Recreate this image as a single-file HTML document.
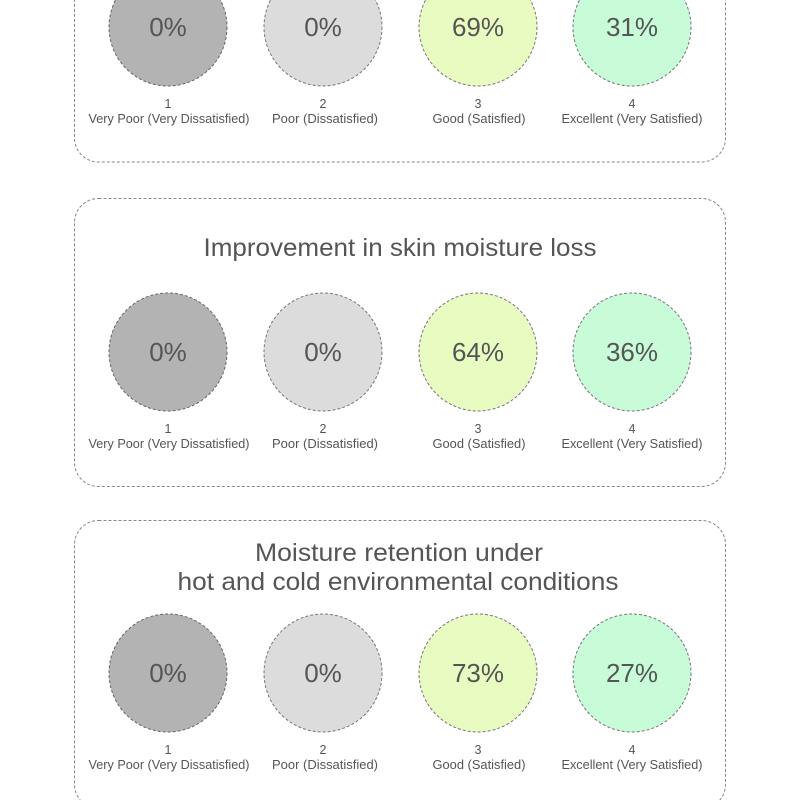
<!DOCTYPE html>
<html><head><meta charset="utf-8"><style>html,body{margin:0;padding:0;background:#fff}svg{display:block}</style></head>
<body>
<svg width="800" height="800" viewBox="0 0 800 800" xmlns="http://www.w3.org/2000/svg" font-family="Liberation Sans, sans-serif">
<g fill="none" stroke="#888" stroke-width="1" stroke-dasharray="3,2">
<rect x="74.5" y="-126" width="651" height="288" rx="24"/>
<rect x="74.5" y="198.5" width="651" height="288" rx="24"/>
<rect x="74.5" y="520.5" width="651" height="288" rx="24"/>
</g>
<text x="400" y="256" font-size="25" fill="#555" text-anchor="middle" textLength="393" lengthAdjust="spacingAndGlyphs">Improvement in skin moisture loss</text>
<text x="399" y="561" font-size="25" fill="#555" text-anchor="middle" textLength="288" lengthAdjust="spacingAndGlyphs">Moisture retention under</text>
<text x="398" y="590" font-size="25" fill="#555" text-anchor="middle" textLength="441" lengthAdjust="spacingAndGlyphs">hot and cold environmental conditions</text>
<defs>
<g id="c1"><circle r="59" fill="#b3b3b3" stroke="#666" stroke-dasharray="3,2"/></g>
<g id="c2"><circle r="59" fill="#dcdcdc" stroke="#777" stroke-dasharray="3,2"/></g>
<g id="c3"><circle r="59" fill="#e8fbc0" stroke="#777" stroke-dasharray="3,2"/></g>
<g id="c4"><circle r="59" fill="#c8fbd8" stroke="#777" stroke-dasharray="3,2"/></g>
</defs>
<g fill="#555" text-anchor="middle">
<!-- row 1 cy=27 -->
<use href="#c1" x="168" y="27"/><use href="#c2" x="323" y="27"/><use href="#c3" x="478" y="27"/><use href="#c4" x="632" y="27"/>
<text x="168" y="36" font-size="26">0%</text><text x="323" y="36" font-size="26">0%</text><text x="478" y="36" font-size="26">69%</text><text x="632" y="36" font-size="26">31%</text>
<g font-size="12.5">
<text x="168" y="108">1</text><text x="323" y="108">2</text><text x="478" y="108">3</text><text x="632" y="108">4</text>
<text x="169" y="123" textLength="161" lengthAdjust="spacingAndGlyphs">Very Poor (Very Dissatisfied)</text>
<text x="325" y="123" textLength="106" lengthAdjust="spacingAndGlyphs">Poor (Dissatisfied)</text>
<text x="479" y="123" textLength="93" lengthAdjust="spacingAndGlyphs">Good (Satisfied)</text>
<text x="632" y="123" textLength="141" lengthAdjust="spacingAndGlyphs">Excellent (Very Satisfied)</text>
</g>
<!-- row 2 cy=352 -->
<use href="#c1" x="168" y="352"/><use href="#c2" x="323" y="352"/><use href="#c3" x="478" y="352"/><use href="#c4" x="632" y="352"/>
<text x="168" y="361" font-size="26">0%</text><text x="323" y="361" font-size="26">0%</text><text x="478" y="361" font-size="26">64%</text><text x="632" y="361" font-size="26">36%</text>
<g font-size="12.5">
<text x="168" y="433">1</text><text x="323" y="433">2</text><text x="478" y="433">3</text><text x="632" y="433">4</text>
<text x="169" y="448" textLength="161" lengthAdjust="spacingAndGlyphs">Very Poor (Very Dissatisfied)</text>
<text x="325" y="448" textLength="106" lengthAdjust="spacingAndGlyphs">Poor (Dissatisfied)</text>
<text x="479" y="448" textLength="93" lengthAdjust="spacingAndGlyphs">Good (Satisfied)</text>
<text x="632" y="448" textLength="141" lengthAdjust="spacingAndGlyphs">Excellent (Very Satisfied)</text>
</g>
<!-- row 3 cy=673 -->
<use href="#c1" x="168" y="673"/><use href="#c2" x="323" y="673"/><use href="#c3" x="478" y="673"/><use href="#c4" x="632" y="673"/>
<text x="168" y="682" font-size="26">0%</text><text x="323" y="682" font-size="26">0%</text><text x="478" y="682" font-size="26">73%</text><text x="632" y="682" font-size="26">27%</text>
<g font-size="12.5">
<text x="168" y="754">1</text><text x="323" y="754">2</text><text x="478" y="754">3</text><text x="632" y="754">4</text>
<text x="169" y="769" textLength="161" lengthAdjust="spacingAndGlyphs">Very Poor (Very Dissatisfied)</text>
<text x="325" y="769" textLength="106" lengthAdjust="spacingAndGlyphs">Poor (Dissatisfied)</text>
<text x="479" y="769" textLength="93" lengthAdjust="spacingAndGlyphs">Good (Satisfied)</text>
<text x="632" y="769" textLength="141" lengthAdjust="spacingAndGlyphs">Excellent (Very Satisfied)</text>
</g>
</g>
</svg>
</body></html>
